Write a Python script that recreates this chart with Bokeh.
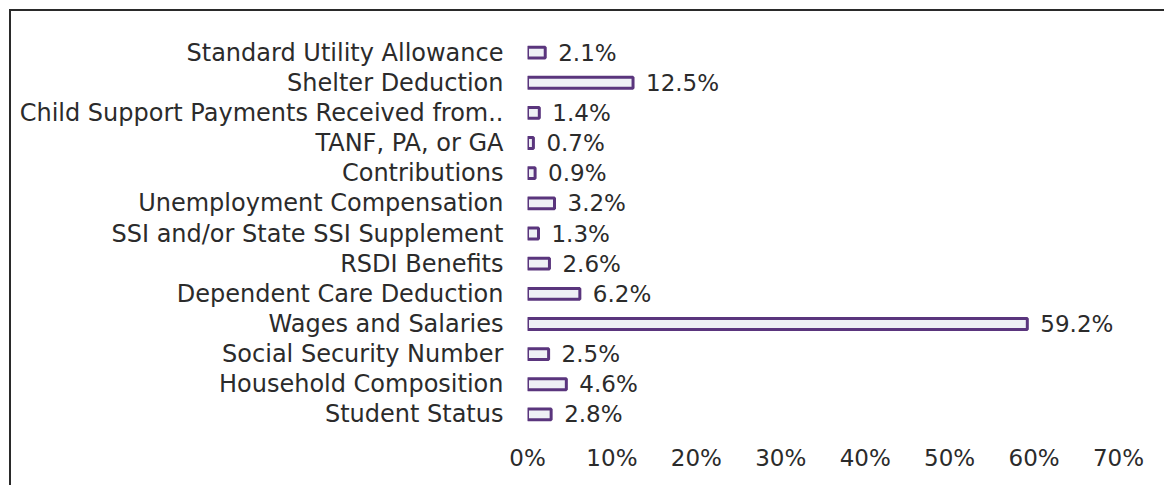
from bokeh.plotting import figure
from bokeh.models import FactorRange, Range1d, FixedTicker, ColumnDataSource
from bokeh.core.properties import value
from bokeh.embed import file_html
from bokeh.resources import INLINE

categories = [
    "Standard Utility Allowance",
    "Shelter Deduction",
    "Child Support Payments Received from..",
    "TANF, PA, or GA",
    "Contributions",
    "Unemployment Compensation",
    "SSI and/or State SSI Supplement",
    "RSDI Benefits",
    "Dependent Care Deduction",
    "Wages and Salaries",
    "Social Security Number",
    "Household Composition",
    "Student Status",
]
values = [2.1, 12.5, 1.4, 0.7, 0.9, 3.2, 1.3, 2.6, 6.2, 59.2, 2.5, 4.6, 2.8]
value_labels = ["2.1%", "12.5%", "1.4%", "0.7%", "0.9%", "3.2%", "1.3%",
                "2.6%", "6.2%", "59.2%", "2.5%", "4.6%", "2.8%"]
x_ticks = [0, 10, 20, 30, 40, 50, 60, 70]
x_tick_labels = ["0%", "10%", "20%", "30%", "40%", "50%", "60%", "70%"]

FONT = "DejaVu Sans"
TEXT_COLOR = "#2b2b2b"

source = ColumnDataSource(dict(cat=categories, val=values, lab=value_labels))

p = figure(
    width=1155, height=476,
    y_range=FactorRange(factors=list(reversed(categories))),
    x_range=Range1d(0, 70),
    output_backend="svg", toolbar_location=None,
    min_border_left=516, min_border_right=48,
    min_border_top=26, min_border_bottom=58,
)
p.styles = {"margin-left": "9px", "margin-top": "9px",
            "border-left": "2px solid #2a2a2a", "border-top": "2px solid #2a2a2a"}
p.outline_line_color = None
p.background_fill_color = "white"
p.border_fill_color = "white"
p.xgrid.visible = False
p.ygrid.visible = False

p.hbar(y="cat", left=0, right="val", height=0.36, source=source,
       fill_color="#eef0f5", line_color="#5a357d", line_width=3)

p.text(x="val", y="cat", text="lab", source=source, x_offset=13,
       text_baseline="middle", text_align="left",
       text_font=value(FONT), text_font_size="23px", text_color=TEXT_COLOR)

xa = p.xaxis[0]
xa.ticker = FixedTicker(ticks=x_ticks)
xa.major_label_overrides = {t: l for t, l in zip(x_ticks, x_tick_labels)}
xa.axis_line_color = None
xa.major_tick_line_color = None
xa.minor_tick_line_color = None
xa.major_tick_out = 0
xa.major_label_standoff = 15
xa.major_label_text_font = FONT
xa.major_label_text_font_size = "23px"
xa.major_label_text_color = TEXT_COLOR

ya = p.yaxis[0]
ya.axis_line_color = None
ya.major_tick_line_color = None
ya.minor_tick_line_color = None
ya.major_tick_out = 0
ya.major_label_standoff = 24
ya.major_label_text_font = FONT
ya.major_label_text_font_size = "24px"
ya.major_label_text_color = TEXT_COLOR

open("out.html", "w").write(file_html(p, INLINE))
